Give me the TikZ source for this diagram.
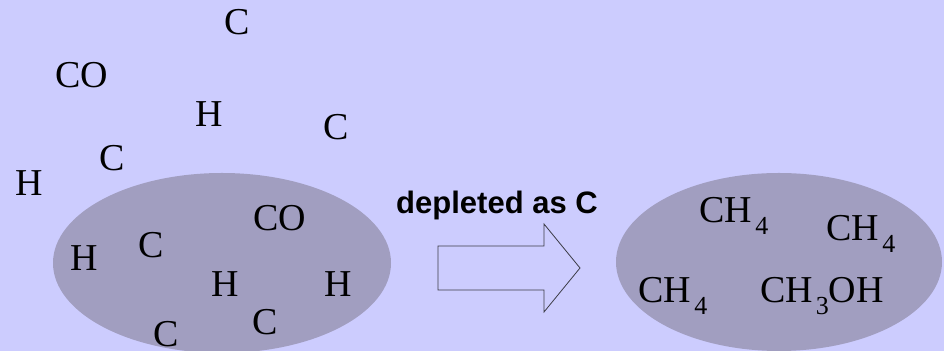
\documentclass[tikz,border=0pt]{standalone}
\usepackage{fontspec}
\setmainfont{Liberation Serif}
\newfontfamily\labelfont{Liberation Sans}
\usetikzlibrary{positioning}

\newcommand{\sub}[1]{\kern1.5pt\raisebox{-0.3em}{\fontsize{13}{13}\selectfont #1}}

\begin{document}
\begin{tikzpicture}[x=0.5pt, y=-0.5pt,
    atom/.style={inner sep=0pt, font=\fontsize{19}{19}\selectfont},
    mol/.style={inner sep=0pt, font=\fontsize{19}{19}\selectfont}]

% Define colors
\definecolor{mybg}{RGB}{204, 204, 254}
\definecolor{mycloud}{RGB}{161, 158, 192}
\definecolor{myline}{RGB}{60, 60, 70}

% Background
\fill[mybg] (0, 0) rectangle (944, 351);
\useasboundingbox (0, 0) rectangle (944, 351);

% Draw the grains
\fill[mycloud] (222, 263) ellipse (169 and 90);
\fill[mycloud] (779, 262) ellipse (163 and 89);

% Gas phase atoms
\node[atom] (c1) at (237, 22) {C};
\node[atom] (co1) at (82, 75) {CO};
\node[atom] (h1) at (209, 114) {H};
\node[atom] (c2) at (336, 127) {C};
\node[atom] (c3) at (112, 158) {C};
\node[atom] (h2) at (29, 183) {H};

% Atoms on the grain
\node[atom] (co2) at (280, 218) {CO};
\node[atom] (c4) at (151, 245) {C};
\node[atom] (h3) at (84, 258) {H};
\node[atom] (h4) at (225, 284) {H};
\node[atom] (h5) at (338, 284) {H};
\node[atom] (c5) at (265, 322) {C};
\node[atom] (c6) at (166, 334) {C};

% The arrow
\draw[myline, fill=mybg] (438, 246) -- (544, 246) -- (544, 224) -- (580, 268)
    -- (544, 312) -- (544, 290) -- (438, 290) -- cycle;
\node[font=\labelfont\bfseries\fontsize{15.5}{16}\selectfont, inner sep=0pt]
    (label) at (497, 205) {depleted as C};

% Molecules on the grain
\node[mol] (m1) at (734, 216) {CH\sub{4}};
\node[mol] (m2) at (861, 234) {CH\sub{4}};
\node[mol] (m3) at (673, 296) {CH\sub{4}};
\node[mol] (m4) at (822, 296) {CH\sub{3}OH};

\end{tikzpicture}
\end{document}
